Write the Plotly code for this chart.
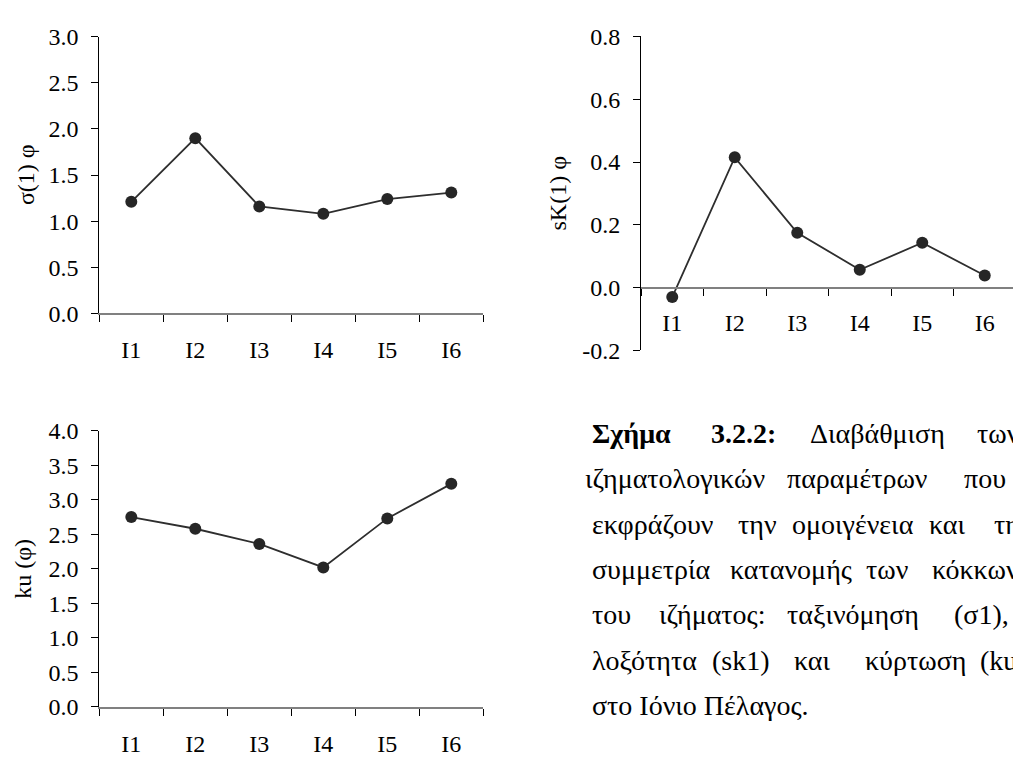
import plotly.graph_objects as go

# ---------------- data ----------------
stations = ["I1", "I2", "I3", "I4", "I5", "I6"]
sorting_sigma = [1.21, 1.90, 1.16, 1.08, 1.24, 1.31]
skewness_sk = [-0.03, 0.415, 0.175, 0.057, 0.143, 0.039]
kurtosis_ku = [2.75, 2.58, 2.36, 2.02, 2.73, 3.23]

sk_ticks = [-0.2, 0.0, 0.2, 0.4, 0.6, 0.8]
sk_ticklabels = ["-0.2", "0.0", "0.2", "0.4", "0.6", "0.8"]

ytitle_sigma = "σ(1) φ"
ytitle_sk = "sK(1) φ"
ytitle_ku = "ku (φ)"

caption_lines = [
    ["<b>Σχήμα</b>", "<b>3.2.2:</b>", "Διαβάθμιση", "των"],
    ["ιζηματολογικών", "παραμέτρων", "που"],
    ["εκφράζουν", "την", "ομοιγένεια", "και", "τη"],
    ["συμμετρία", "κατανομής", "των", "κόκκων"],
    ["του", "ιζήματος:", "ταξινόμηση", "(σ1),"],
    ["λοξότητα", "(sk1)", "και", "κύρτωση", "(ku)"],
    ["στο Ιόνιο Πέλαγος."],
]

# ---------------- layout helpers ----------------
W, H = 1013, 768
FONT = "Liberation Serif, Times New Roman, serif"


def px(x):
    return x / W


def py(y):
    return 1 - y / H


LINE_COLOR = "#2e2e2e"
MARKER_COLOR = "#262626"

fig = go.Figure()

series = [
    (sorting_sigma, "x", "y"),
    (skewness_sk, "x2", "y2"),
    (kurtosis_ku, "x3", "y3"),
]
for vals, xa, ya in series:
    fig.add_trace(
        go.Scatter(
            x=stations,
            y=vals,
            xaxis=xa,
            yaxis=ya,
            mode="lines+markers",
            line=dict(color=LINE_COLOR, width=1.8),
            marker=dict(color=MARKER_COLOR, size=12, symbol="circle"),
            showlegend=False,
            cliponaxis=False,
        )
    )

tickfont = dict(family=FONT, size=24, color="black")

xcommon = dict(
    type="category",
    showgrid=False,
    zeroline=False,
    showline=True,
    linecolor="#808080",
    linewidth=2,
    ticks="outside",
    tickson="boundaries",
    ticklen=7,
    tickwidth=1,
    tickcolor="black",
    tickfont=tickfont,
    ticklabelstandoff=14,
    fixedrange=True,
)
ycommon = dict(
    showgrid=False,
    zeroline=False,
    showline=True,
    linecolor="black",
    linewidth=1,
    ticks="outside",
    ticklen=7,
    tickwidth=1,
    tickcolor="black",
    tickfont=tickfont,
    tickformat=".1f",
    ticklabelstandoff=8,
    fixedrange=True,
)

fig.update_layout(
    # Top-left: sorting
    xaxis=dict(xcommon, domain=[px(99.3), px(483.3)], range=[-0.5, 5.5], anchor="y"),
    yaxis=dict(ycommon, domain=[py(311), py(24.5)], range=[0, 3], dtick=0.5, tick0=0, anchor="x"),
    # Top-right: skewness (x axis crosses at 0)
    xaxis2=dict(
        xcommon,
        domain=[px(641), 1.0],
        range=[-0.5, -0.5 + (W - 641) / 62.5],
        anchor="free",
        position=py(284.3),
    ),
    yaxis2=dict(
        ycommon,
        domain=[py(349.3), py(24.3)],
        range=[-0.2, 0.8],
        tickmode="array",
        tickvals=sk_ticks,
        ticktext=sk_ticklabels,
        anchor="x2",
    ),
    # Bottom-left: kurtosis
    xaxis3=dict(xcommon, domain=[px(99.3), px(483.3)], range=[-0.5, 5.5], anchor="y3"),
    yaxis3=dict(ycommon, domain=[py(718.3), py(432.3)], range=[0, 4], dtick=0.5, tick0=0, anchor="x3"),
)

annotations = []
# axis titles
for text, xc, yc in [
    (ytitle_sigma, 26, 167.8),
    (ytitle_sk, 558, 186.8),
    (ytitle_ku, 23, 575.3),
]:
    annotations.append(
        dict(
            text=text,
            x=px(xc),
            y=py(yc),
            xref="paper",
            yref="paper",
            xanchor="center",
            yanchor="middle",
            textangle=-90,
            showarrow=False,
            font=dict(family=FONT, size=24, color="black"),
        )
    )

# caption (justified paragraph, each word placed)
L = 590
line_y = [435, 482, 529, 576, 623, 670, 717]
word_anchor = [
    [(L, "left"), (778, "right"), (808, "left"), (975, "left")],
    [(767, "right"), (785, "left"), (962, "left")],
    [(L, "left"), (736, "left"), (790, "left"), (927, "left"), (992, "left")],
    [(L, "left"), (728, "left"), (864, "left"), (930, "left")],
    [(L, "left"), (767, "right"), (785, "left"), (952, "left")],
    [(L, "left"), (772, "right"), (792, "left"), (863, "left"), (978, "left")],
    [(L, "left")],
]
for words, anchors, yl in zip(caption_lines, word_anchor, line_y):
    for w, (xa, anc) in zip(words, anchors):
        annotations.append(
            dict(
                text=w,
                x=px(xa),
                y=py(yl),
                xref="paper",
                yref="paper",
                xanchor=anc,
                yanchor="middle",
                showarrow=False,
                font=dict(family=FONT, size=28, color="black"),
            )
        )

fig.update_layout(
    annotations=annotations,
    width=W,
    height=H,
    margin=dict(l=0, r=0, t=0, b=0),
    paper_bgcolor="white",
    plot_bgcolor="white",
    showlegend=False,
    font=dict(family=FONT, color="black"),
)

fig.write_html("out.html", config={"displayModeBar": False})
